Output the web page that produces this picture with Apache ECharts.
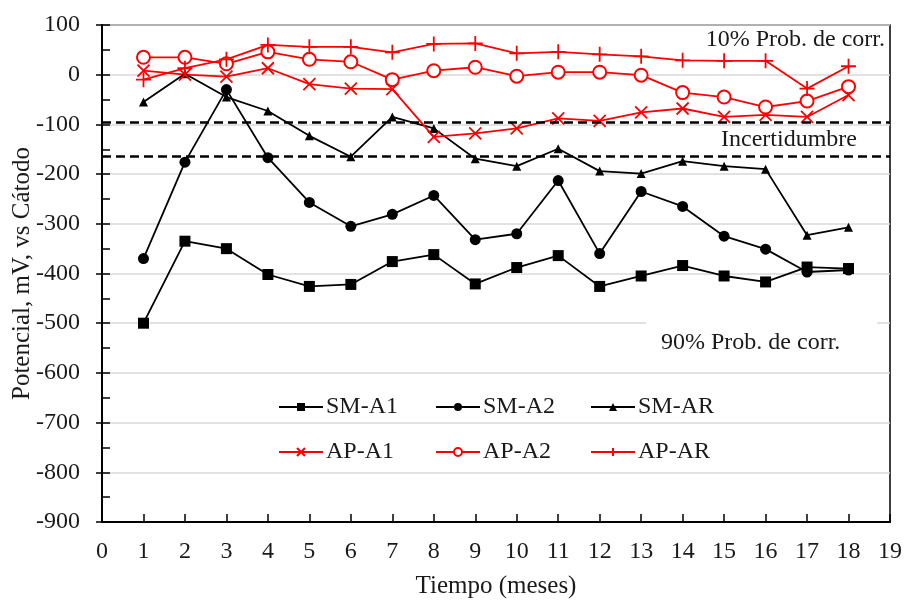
<!DOCTYPE html>
<html>
<head>
<meta charset="utf-8">
<script src="https://cdn.jsdelivr.net/npm/echarts@6/dist/echarts.min.js"></script>
<style>
html,body{margin:0;padding:0;background:#fff;}
#chart{width:905px;height:601px;}
</style>
</head>
<body>
<div id="chart"></div>
<script>
// ---- data ----
const months = [1,2,3,4,5,6,7,8,9,10,11,12,13,14,15,16,17,18];
const smA1 = [-500,-335,-350,-402,-426,-422,-376,-362,-421,-388,-364,-426,-405,-384,-405,-417,-387,-390];
const smA2 = [-370,-176,-30,-167,-257,-305,-281,-243,-332,-320,-213,-360,-235,-265,-325,-351,-397,-393];
const smAR = [-55,2,-45,-73,-123,-165,-85,-108,-169,-184,-149,-194,-199,-174,-184,-190,-323,-307];
const apA1 = [8,0,-4,13,-19,-28,-29,-125,-118,-108,-88,-93,-76,-68,-85,-81,-85,-41];
const apA2 = [35,35,22,46,31,26,-10,8,15,-3,5,5,-1,-36,-45,-65,-53,-24];
const apAR = [-10,13,31,60,56,56,45,62,63,43,46,41,37,29,28,28,-28,17];
const thresholds = [-95, -165];
const seriesNames = ['SM-A1','SM-A2','SM-AR','AP-A1','AP-A2','AP-AR'];
const notes = ['10% Prob. de corr.', 'Incertidumbre', '90% Prob. de corr.'];
const xTitle = 'Tiempo (meses)';
const yTitle = 'Potencial, mV, vs Cátodo';

const FONT = '"Liberation Serif", "Times New Roman", serif';
const TXT = '#1a1a1a';
const RED = '#ff0000';
const X_PATH = 'path://M0,0L10,10M10,0L0,10';
const PLUS_PATH = 'path://M5,0L5,10M0,5L10,5';

function pair(arr){ return arr.map((v,i)=>[months[i], v]); }

function mkSeries(name, data, color, symbol, size, extraItem){
  return {
    name, type:'line', data: pair(data),
    symbol, symbolSize: size,
    lineStyle:{color, width:1.8},
    itemStyle: Object.assign({color}, extraItem||{}),
    emphasis:{disabled:true},
    animation:false,
    z: 3
  };
}

const series = [
  mkSeries(seriesNames[0], smA1, '#000', 'rect', 11),
  mkSeries(seriesNames[1], smA2, '#000', 'circle', 11),
  mkSeries(seriesNames[2], smAR, '#000', 'triangle', 9),
  mkSeries(seriesNames[3], apA1, RED, X_PATH, 12, {borderColor:RED, borderWidth:1.8, color:'none'}),
  mkSeries(seriesNames[4], apA2, RED, 'emptyCircle', 13, {borderColor:RED, borderWidth:1.8}),
  mkSeries(seriesNames[5], apAR, RED, PLUS_PATH, 15, {borderColor:RED, borderWidth:1.8, color:'none'})
];
// threshold dashed lines
series.push({
  type:'line', data:[], silent:true, animation:false,
  markLine:{
    symbol:'none', silent:true, animation:false,
    label:{show:false},
    lineStyle:{color:'#000', type:[9,5], width:2.6},
    data: thresholds.map(t=>({yAxis:t}))
  },
  z: 2
});

const legendPos = [[273,390],[430,390],[585,390],[273,435],[430,435],[585,435]];
const legends = seriesNames.map((n,i)=>({
  data:[n], left: legendPos[i][0], top: legendPos[i][1],
  itemWidth:44, itemHeight:10, itemGap:0,
  textStyle:{fontFamily:FONT, fontSize:24, color:TXT, padding:[0,0,0,-2]},
  selectedMode:false
}));

const option = {
  backgroundColor:'#fff',
  animation:false,
  grid:{left:102, right:15, top:25, bottom:79, show:true, borderColor:'#000', borderWidth:1.5,
        backgroundColor:'transparent', containLabel:false, outerBoundsMode:'none'},
  legend: legends,
  xAxis:{
    type:'value', min:0, max:19, interval:1,
    name: xTitle, nameLocation:'middle', nameGap:52, nameMoveOverlap:false,
    nameTextStyle:{fontFamily:FONT, fontSize:25, color:TXT},
    axisLine:{show:true, onZero:false, lineStyle:{color:'#000', width:2}},
    axisTick:{show:true, inside:true, length:8, lineStyle:{color:'#000', width:1.5}},
    axisLabel:{fontFamily:FONT, fontSize:24, color:TXT, margin:18},
    splitLine:{show:false}
  },
  yAxis:[{
    type:'value', min:-900, max:100, interval:100,
    name: yTitle, nameLocation:'middle', nameGap:67, nameRotate:90, nameMoveOverlap:false,
    nameTextStyle:{fontFamily:FONT, fontSize:25, color:TXT},
    axisLine:{show:true, onZero:false, lineStyle:{color:'#000', width:2}},
    axisTick:{show:true, inside:false, length:6, lineStyle:{color:'#000', width:1.5}},
    axisLabel:{fontFamily:FONT, fontSize:24, color:TXT, margin:22},
    splitLine:{show:true, lineStyle:{color:'#d9d9d9', width:1.5}}
  },{
    type:'value', min:-900, max:100, interval:50, position:'left',
    axisLine:{show:false},
    axisTick:{show:true, inside:true, length:8, lineStyle:{color:'#000', width:1.5}},
    axisLabel:{show:false},
    splitLine:{show:false}
  }],
  graphic:[
    {type:'text', right: 905-885, top: 28, z:10,
     style:{text:notes[0], font:'24px '+FONT, fill:TXT}},
    {type:'text', left: 721, top: 128, z:10,
     style:{text:notes[1], font:'24px '+FONT, fill:TXT}},
    {type:'rect', left:646, top:318, z:1, shape:{width:231, height:48}, style:{fill:'#fff'}},
    {type:'text', left: 661, top: 331, z:10,
     style:{text:notes[2], font:'24px '+FONT, fill:TXT}}
  ],
  series
};

const chart = echarts.init(document.getElementById('chart'), null, {renderer:'canvas'});
chart.setOption(option);
</script>
</body>
</html>
